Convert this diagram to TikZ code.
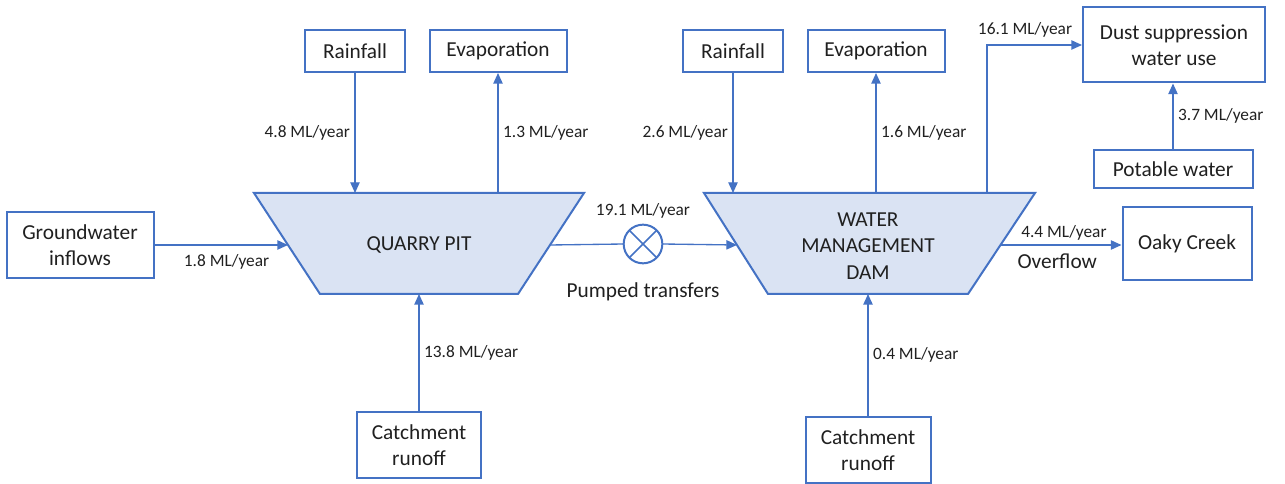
\documentclass[tikz,border=0pt]{standalone}
\usepackage{fontspec}
\setmainfont{Carlito}
\usetikzlibrary{arrows.meta,positioning}
\definecolor{lineblue}{HTML}{4472C4}
\definecolor{pitfill}{HTML}{DAE3F3}
\definecolor{txt}{HTML}{202020}

\begin{document}
\begin{tikzpicture}[x=0.75pt,y=-0.75pt,
  box/.style={draw=lineblue,line width=1.5pt,fill=white,text=txt,align=center,
    font=\fontsize{16}{19.8}\selectfont,inner sep=2pt},
  flow/.style={draw=lineblue,line width=1pt,-{Triangle[length=8pt,width=7pt]}},
  qty/.style={text=txt,font=\fontsize{13}{16}\selectfont},
  word/.style={text=txt,font=\fontsize{16}{19.8}\selectfont,align=center},
  basin/.style={draw=lineblue,line width=1.5pt,fill=pitfill}]
\useasboundingbox (0,0) rectangle (1285,484);

\coordinate (A1) at (254,193);
\coordinate (A2) at (584,193);
\coordinate (A3) at (518,294);
\coordinate (A4) at (320,294);
\coordinate (B1) at (704,193);
\coordinate (B2) at (1035,193);
\coordinate (B3) at (968,294);
\coordinate (B4) at (768,294);
\coordinate (pitW) at (288,245);
\coordinate (pitE) at (550,245);
\coordinate (damW) at (737,245);
\coordinate (damE) at (1001,245);
\coordinate (damT) at (987,193);

\draw[basin] (A1) -- (A2) -- (A3) -- (A4) -- cycle;
\draw[basin] (B1) -- (B2) -- (B3) -- (B4) -- cycle;
\node[word] (pit) at (419,245) {QUARRY PIT};
\node[word] (dam) at (868,246) {WATER\\MANAGEMENT\\DAM};

\node[box,minimum width=75pt,minimum height=31.5pt] (rainA) at (355,51) {Rainfall};
\node[box,minimum width=102.75pt,minimum height=31.5pt] (evapA) at (498,51) {Evaporation};
\node[box,minimum width=75pt,minimum height=31.5pt] (rainB) at (733,51) {Rainfall};
\node[box,minimum width=102.75pt,minimum height=31.5pt] (evapB) at (876,51) {Evaporation};
\node[box,minimum width=136.5pt,minimum height=56.25pt] (dust) at (1174,45) {Dust suppression\\water use};
\node[box,minimum width=119.25pt,minimum height=28.5pt] (potable) at (1173,169) {Potable water};
\node[box,minimum width=110.25pt,minimum height=49.5pt] (ground) at (80,245) {Groundwater\\inflows};
\node[box,minimum width=96.75pt,minimum height=54.75pt] (oaky) at (1187,244) {Oaky Creek};
\node[box,minimum width=93pt,minimum height=48.75pt] (runA) at (419,445) {Catchment\\runoff};
\node[box,minimum width=93.75pt,minimum height=49.5pt] (runB) at (868,450) {Catchment\\runoff};

\node[draw=lineblue,line width=1.5pt,circle,minimum size=29pt,inner sep=0pt,outer sep=0pt] (pump) at (643,244) {};
\draw[lineblue,line width=1.2pt] (pump.north west) -- (pump.south east) (pump.north east) -- (pump.south west);

\draw[flow] (rainA.south) -- node[midway,left,qty] (qA) {4.8 ML/year} (rainA.south |- A1);
\draw[flow] (evapA.south |- A1) -- node[midway,right,qty] (qB) {1.3 ML/year} (evapA.south);
\draw[flow] (runA.north) -- node[midway,right,qty] (qC) {13.8 ML/year} (runA.north |- A4);
\draw[flow] (ground.east) -- node[midway,below=3pt,xshift=4pt,qty] (qD) {1.8 ML/year} (pitW);
\draw[lineblue,line width=1pt] (pitE) -- (pump.west);
\draw[flow] (pump.east) -- (damW);
\node[qty,above=1pt of pump] (qE) {19.1 ML/year};
\node[word,below=11pt of pump] (pumped) {Pumped transfers};

\draw[flow] (rainB.south) -- node[midway,left,qty] (qF) {2.6 ML/year} (rainB.south |- B1);
\draw[flow] (evapB.south |- B1) -- node[midway,right,qty] (qG) {1.6 ML/year} (evapB.south);
\draw[flow] (runB.north) -- node[midway,right,qty] (qH) {0.4 ML/year} (runB.north |- B4);
\draw[flow] (damE) -- node[midway,above,xshift=2pt,qty] (qI) {4.4 ML/year}
  node[midway,below=3pt,word,xshift=-3pt] (over) {Overflow} (damE -| oaky.west);
\draw[flow] (damT) |- node[pos=0.7,above=2pt,qty] (qJ) {16.1 ML/year} (dust.west);
\draw[flow] (potable.north) -- node[midway,right,qty] (qK) {3.7 ML/year} (potable.north |- dust.south);
\end{tikzpicture}
\end{document}
